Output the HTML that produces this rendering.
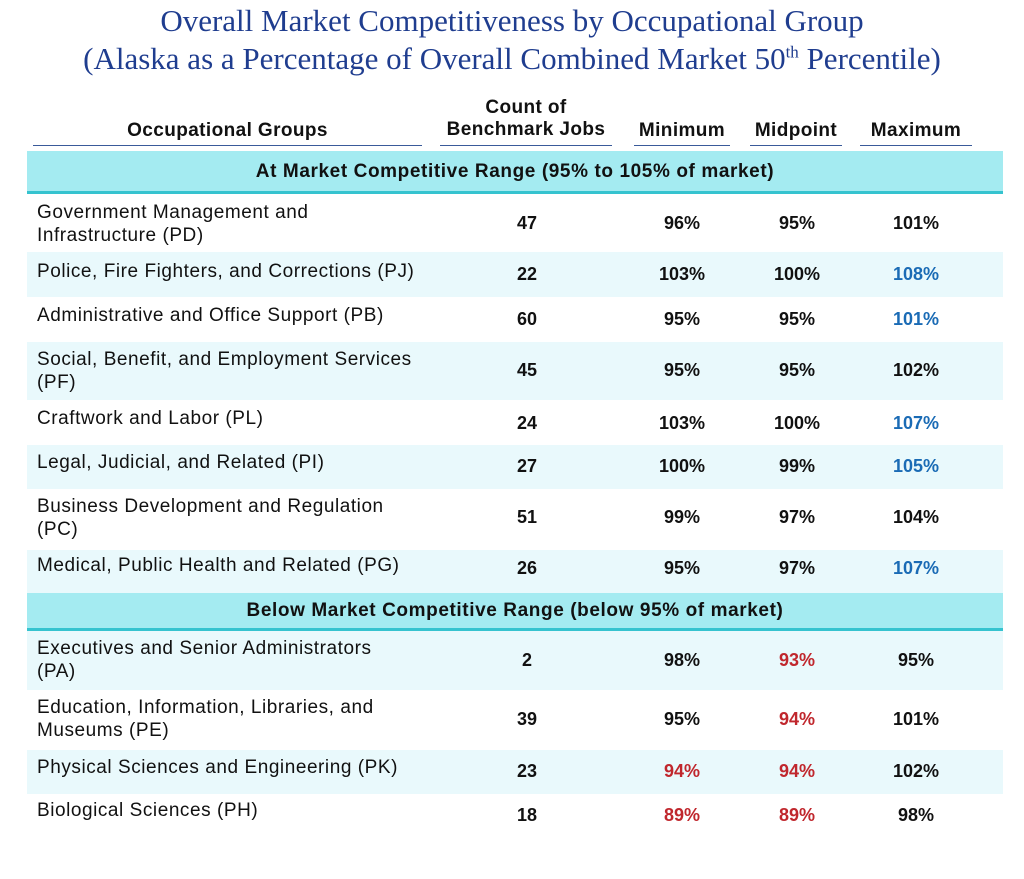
<!DOCTYPE html>
<html><head><meta charset="utf-8"><style>
body{margin:0;width:1024px;height:879px;background:#fff;position:relative;font-family:"Liberation Sans",Arial,sans-serif;color:#111;overflow:hidden}
.t{position:absolute;left:0;width:1024px;text-align:center;font-family:"Liberation Serif",serif;color:#1f3d8f;font-size:31px;white-space:nowrap}
.h{position:absolute;font-weight:bold;font-size:19px;letter-spacing:0.4px;text-align:center;line-height:22px;white-space:nowrap}
.u{position:absolute;top:145px;height:1px;background:#3a5a9a}
.band{position:absolute;left:27px;width:976px;background:#a4ebf1;border-bottom:3px solid #35c3cf;font-weight:bold;font-size:19px;letter-spacing:0.6px;text-align:center;box-sizing:border-box}
.r{position:absolute;left:27px;width:976px;font-size:19px}
.r.l{background:#e9f9fc}
.n{position:absolute;left:10px;line-height:23px;letter-spacing:0.55px;white-space:nowrap}
.v{position:absolute;font-weight:bold;width:100px;text-align:center;margin-left:-50px;font-size:18px}
.b{color:#1a6bb5}.d{color:#c0272d}
</style></head><body>
<div class="t" style="top:3px">Overall Market Competitiveness by Occupational Group</div>
<div class="t" style="top:41px">(Alaska as a Percentage of Overall Combined Market 50<sup style="font-size:17px">th</sup> Percentile)</div>
<div class="h" style="left:33px;width:389px;top:120px">Occupational Groups</div>
<div class="h" style="left:440px;width:172px;top:97px">Count of<br>Benchmark Jobs</div>
<div class="h" style="left:634px;width:96px;top:120px">Minimum</div>
<div class="h" style="left:750px;width:92px;top:120px">Midpoint</div>
<div class="h" style="left:860px;width:112px;top:120px">Maximum</div>
<div class="u" style="left:33px;width:389px"></div>
<div class="u" style="left:440px;width:172px"></div>
<div class="u" style="left:634px;width:96px"></div>
<div class="u" style="left:750px;width:92px"></div>
<div class="u" style="left:860px;width:112px"></div>
<div class="band" style="top:151px;height:43px;line-height:41px">At Market Competitive Range (95% to 105% of market)</div>
<div class="band" style="top:593px;height:38px;line-height:36px">Below Market Competitive Range (below 95% of market)</div>

<div class="r" style="top:194px;height:58px"><div class="n" style="top:7px">Government Management and<br>Infrastructure (PD)</div><div class="v" style="left:500px;top:19px">47</div><div class="v" style="left:655px;top:19px">96%</div><div class="v" style="left:770px;top:19px">95%</div><div class="v" style="left:889px;top:19px">101%</div></div>
<div class="r l" style="top:252px;height:45px"><div class="n" style="top:8px">Police, Fire Fighters, and Corrections (PJ)</div><div class="v" style="left:500px;top:12px">22</div><div class="v" style="left:655px;top:12px">103%</div><div class="v" style="left:770px;top:12px">100%</div><div class="v b" style="left:889px;top:12px">108%</div></div>
<div class="r" style="top:297px;height:45px"><div class="n" style="top:7px">Administrative and Office Support (PB)</div><div class="v" style="left:500px;top:12px">60</div><div class="v" style="left:655px;top:12px">95%</div><div class="v" style="left:770px;top:12px">95%</div><div class="v b" style="left:889px;top:12px">101%</div></div>
<div class="r l" style="top:342px;height:58px"><div class="n" style="top:6px">Social, Benefit, and Employment Services<br>(PF)</div><div class="v" style="left:500px;top:18px">45</div><div class="v" style="left:655px;top:18px">95%</div><div class="v" style="left:770px;top:18px">95%</div><div class="v" style="left:889px;top:18px">102%</div></div>
<div class="r" style="top:400px;height:45px"><div class="n" style="top:7px">Craftwork and Labor (PL)</div><div class="v" style="left:500px;top:13px">24</div><div class="v" style="left:655px;top:13px">103%</div><div class="v" style="left:770px;top:13px">100%</div><div class="v b" style="left:889px;top:13px">107%</div></div>
<div class="r l" style="top:445px;height:44px"><div class="n" style="top:6px">Legal, Judicial, and Related (PI)</div><div class="v" style="left:500px;top:11px">27</div><div class="v" style="left:655px;top:11px">100%</div><div class="v" style="left:770px;top:11px">99%</div><div class="v b" style="left:889px;top:11px">105%</div></div>
<div class="r" style="top:489px;height:61px"><div class="n" style="top:6px">Business Development and Regulation<br>(PC)</div><div class="v" style="left:500px;top:18px">51</div><div class="v" style="left:655px;top:18px">99%</div><div class="v" style="left:770px;top:18px">97%</div><div class="v" style="left:889px;top:18px">104%</div></div>
<div class="r l" style="top:550px;height:43px"><div class="n" style="top:4px">Medical, Public Health and Related (PG)</div><div class="v" style="left:500px;top:8px">26</div><div class="v" style="left:655px;top:8px">95%</div><div class="v" style="left:770px;top:8px">97%</div><div class="v b" style="left:889px;top:8px">107%</div></div>

<div class="r l" style="top:631px;height:59px"><div class="n" style="top:6px">Executives and Senior Administrators<br>(PA)</div><div class="v" style="left:500px;top:19px">2</div><div class="v" style="left:655px;top:19px">98%</div><div class="v d" style="left:770px;top:19px">93%</div><div class="v" style="left:889px;top:19px">95%</div></div>
<div class="r" style="top:690px;height:60px"><div class="n" style="top:6px">Education, Information, Libraries, and<br>Museums (PE)</div><div class="v" style="left:500px;top:19px">39</div><div class="v" style="left:655px;top:19px">95%</div><div class="v d" style="left:770px;top:19px">94%</div><div class="v" style="left:889px;top:19px">101%</div></div>
<div class="r l" style="top:750px;height:44px"><div class="n" style="top:6px">Physical Sciences and Engineering (PK)</div><div class="v" style="left:500px;top:11px">23</div><div class="v d" style="left:655px;top:11px">94%</div><div class="v d" style="left:770px;top:11px">94%</div><div class="v" style="left:889px;top:11px">102%</div></div>
<div class="r" style="top:794px;height:46px"><div class="n" style="top:5px">Biological Sciences (PH)</div><div class="v" style="left:500px;top:11px">18</div><div class="v d" style="left:655px;top:11px">89%</div><div class="v d" style="left:770px;top:11px">89%</div><div class="v" style="left:889px;top:11px">98%</div></div>
</body></html>
